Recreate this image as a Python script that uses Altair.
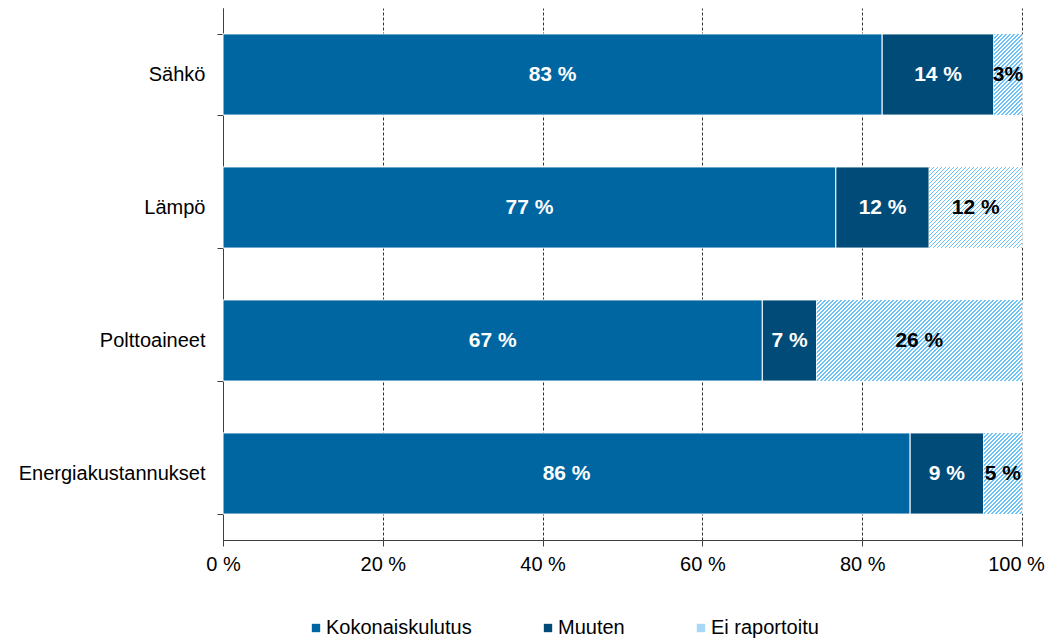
import altair as alt
import pandas as pd
import numpy as np

# ---------------- data ----------------
categories = ["Sähkö", "Lämpö", "Polttoaineet", "Energiakustannukset"]
series = ["Kokonaiskulutus", "Muuten", "Ei raportoitu"]
kokonais = [82.5, 76.7, 67.5, 86.0]
muuten = [14.0, 11.7, 6.8, 9.2]
ei_raportoitu = [3.5, 11.6, 25.7, 4.8]
labels_kokonais = ["83 %", "77 %", "67 %", "86 %"]
labels_muuten = ["14 %", "12 %", "7 %", "9 %"]
labels_ei = ["3%", "12 %", "26 %", "5 %"]
x_ticks = [0, 20, 40, 60, 80, 100]

# ---------------- style ----------------
colors = ["#0066a1", "#004b78", "#a8d8f8"]
label_colors = ["white", "white", "black"]
hatch_color = "#6cc3fa"
clear = "rgba(108,195,250,0)"
FONT = "Liberation Sans"
W, H = 799, 532
PAD_IN, PAD_OUT = 0.39, 0.195

values = [kokonais, muuten, ei_raportoitu]
labels = [labels_kokonais, labels_muuten, labels_ei]

rows = []
for i, cat in enumerate(categories):
    start = 0.0
    for j, s in enumerate(series):
        v = values[j][i]
        rows.append({
            "category": cat, "series": s, "start": start, "end": start + v,
            "mid": start + v / 2, "label": labels[j][i], "tcolor": label_colors[j],
        })
        start += v
df = pd.DataFrame(rows)

y_enc = alt.Y(
    "category:N", sort=categories,
    scale=alt.Scale(paddingInner=PAD_IN, paddingOuter=PAD_OUT),
    axis=alt.Axis(title=None, tickBand="extent", grid=False, domainColor="#404040",
                  tickColor="#404040", tickSize=6, labelFontSize=20, labelFont=FONT,
                  labelColor="black", labelPadding=12, labelLimit=400),
)
x_enc = alt.X(
    "start:Q", scale=alt.Scale(domain=[0, 100], nice=False),
    axis=alt.Axis(title=None, values=x_ticks, labelExpr="datum.value + ' %'",
                  grid=True, gridDash=[3, 2], gridColor="#333333", gridWidth=1,
                  domainColor="#404040", tickColor="#404040", tickSize=6,
                  labelFontSize=20, labelFont=FONT, labelColor="black",
                  labelPadding=8, labelFlush=False, labelOverlap=False,
                  labelOffset={"condition": {"test": "datum.value == 100", "value": -6},
                               "value": 0}),
)

bars = alt.Chart(df).mark_bar(stroke="white", strokeWidth=1).encode(
    x=x_enc,
    x2="end:Q",
    y=y_enc,
    color=alt.Color(
        "series:N", sort=series,
        scale=alt.Scale(domain=series, range=colors),
        legend=alt.Legend(title=None, orient="none", legendX=83, legendY=610,
                          direction="horizontal", symbolType="square", symbolSize=70,
                          symbolStrokeWidth=0, labelFontSize=20, labelFont=FONT,
                          labelColor="black", labelOffset=0, columnPadding=66,
                          padding=0),
    ),
)

hatch_df = df[df.series == series[2]]
hatch_base = alt.Chart(hatch_df).mark_bar(fill="white", stroke="white", strokeWidth=1).encode(
    x="start:Q", x2="end:Q", y=alt.Y("category:N", sort=categories)
)

# hatched overlay: diagonal-stripe gradients (stripe period 4px), split into
# chunks so that no single gradient has too many stops
band_step = H / (len(categories) - PAD_IN + 2 * PAD_OUT)
bar_h = band_step * (1 - PAD_IN)
PERIOD, LINE, CHUNK = 4.0, 1.7, 20
hatch_layers = []
for i, cat in enumerate(categories):
    w = ei_raportoitu[i] / 100 * W
    h = bar_h
    c = (1 / h + 1 / w) / (1 / h ** 2 + 1 / w ** 2)
    total = w + h
    n_periods = int(np.ceil(total / PERIOD))
    sub = hatch_df[hatch_df.category == cat]
    for c0 in range(0, n_periods, CHUNK):
        stops = []
        first = c0 * PERIOD / total
        if first > 0:
            stops += [{"offset": 0, "color": clear}, {"offset": first, "color": clear}]
        last = first
        for k in range(c0, min(c0 + CHUNK, n_periods)):
            a = min(k * PERIOD / total, 1.0)
            b = min((k * PERIOD + LINE) / total, 1.0)
            e = min((k + 1) * PERIOD / total, 1.0)
            stops += [
                {"offset": a, "color": hatch_color},
                {"offset": b, "color": hatch_color},
                {"offset": b, "color": clear},
                {"offset": e, "color": clear},
            ]
            last = e
        if last < 1:
            stops += [{"offset": 1, "color": clear}]
        grad = {"gradient": "linear", "x1": 0, "y1": 0, "x2": c / h, "y2": c / w,
                "stops": stops}
        hatch_layers.append(
            alt.Chart(sub).mark_bar(fill=grad, strokeWidth=0).encode(
                x="start:Q", x2="end:Q", y=alt.Y("category:N", sort=categories)
            )
        )

text = alt.Chart(df).mark_text(fontSize=21, fontWeight="bold", font=FONT).encode(
    x="mid:Q",
    y=alt.Y("category:N", sort=categories),
    text="label:N",
    color=alt.Color("tcolor:N", scale=None),
)

chart = alt.layer(bars, hatch_base, *hatch_layers, text).properties(
    width=W, height=H,
    autosize=alt.AutoSizeParams(type="none"),
    padding={"left": 215, "top": 0, "right": 24, "bottom": 99},
).configure_view(stroke=None)

chart.save("out.html", embed_options={"renderer": "svg", "actions": False})
